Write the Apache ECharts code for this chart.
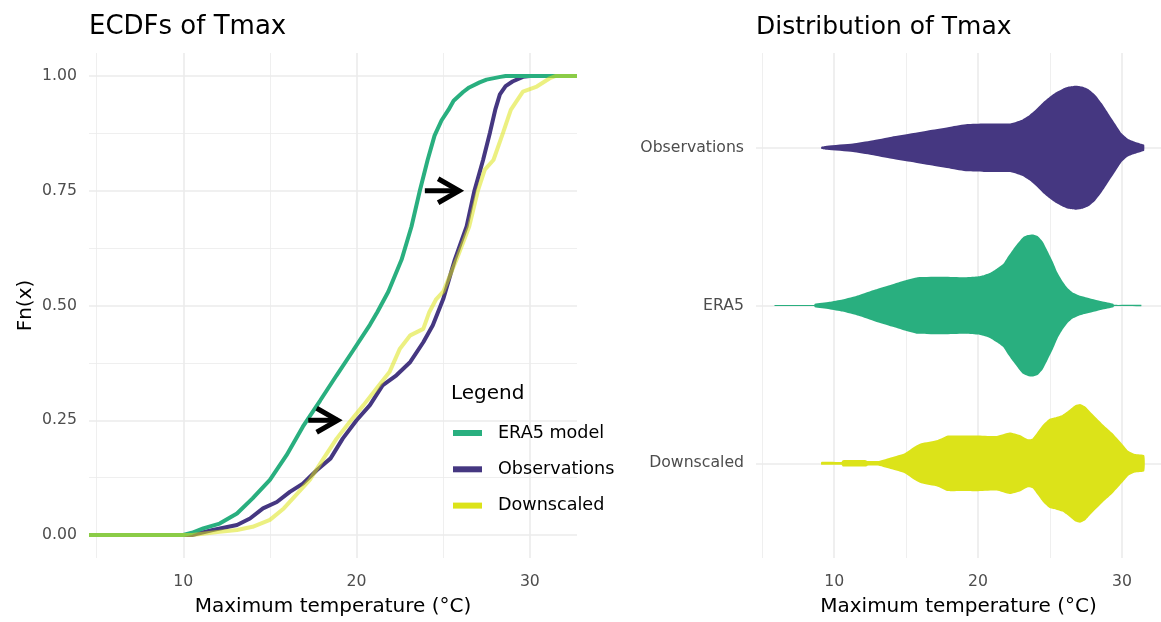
<!DOCTYPE html>
<html>
<head>
<meta charset="utf-8">
<title>ECDFs and distribution of Tmax</title>
<script src="https://cdn.jsdelivr.net/npm/echarts@6/dist/echarts.min.js"></script>
<style>
    html, body { margin: 0; padding: 0; background: #ffffff; }
    #main { width: 1161px; height: 622px; }
</style>
</head>
<body>
<div id="main"></div>
<script>
'use strict';

// ECDF curves (x = Tmax in degC, F = cumulative share)
var era5X = [4.56, 10.0, 10.5, 11.15, 12.1, 13.1, 14.0, 15.0, 15.96, 16.9, 17.9, 18.85, 19.8, 20.77, 21.2, 21.83, 22.6, 23.17, 23.65, 24.1, 24.5, 24.9, 25.3, 25.6, 26.15, 26.5, 27.1, 27.5, 28.3, 28.6, 32.72];
var era5F = [0, 0, 0.005, 0.0145, 0.025, 0.047, 0.080, 0.120, 0.174, 0.236, 0.293, 0.348, 0.402, 0.458, 0.486, 0.530, 0.600, 0.672, 0.750, 0.817, 0.870, 0.903, 0.926, 0.946, 0.965, 0.975, 0.986, 0.992, 0.998, 1, 1];

var obsX = [4.56, 10.5, 11.7, 13.1, 13.85, 14.6, 15.4, 16.15, 16.9, 17.7, 18.5, 19.2, 20.0, 20.77, 21.5, 22.3, 23.1, 23.85, 24.4, 25.0, 25.67, 26.35, 26.8, 27.3, 27.7, 28.0, 28.27, 28.6, 29.0, 29.6, 30.0, 32.72];
var obsF = [0, 0, 0.011, 0.022, 0.036, 0.058, 0.072, 0.094, 0.112, 0.141, 0.167, 0.210, 0.250, 0.283, 0.326, 0.348, 0.377, 0.420, 0.457, 0.514, 0.600, 0.672, 0.750, 0.817, 0.877, 0.926, 0.960, 0.978, 0.988, 0.998, 1, 1];

var downX = [4.56, 10.5, 12.1, 13.1, 14.0, 15.0, 15.8, 16.5, 17.3, 18.1, 18.85, 19.6, 20.4, 21.15, 21.9, 22.5, 23.1, 23.85, 24.2, 24.6, 25.0, 25.77, 26.5, 27.0, 27.4, 27.9, 28.46, 28.9, 29.6, 30.4, 31.15, 31.5, 32.72];
var downF = [0, 0, 0.007, 0.011, 0.018, 0.033, 0.058, 0.087, 0.120, 0.167, 0.210, 0.246, 0.283, 0.319, 0.355, 0.406, 0.435, 0.449, 0.486, 0.514, 0.530, 0.600, 0.672, 0.750, 0.796, 0.817, 0.877, 0.926, 0.966, 0.977, 0.995, 1, 1];

// arrows ERA5 -> observations at F = 0.25 and 0.75
var arrowFrom = [17.21, 23.94];
var arrowTo = [19.14, 26.15];
var arrowF = [0.25, 0.75];

// violins: temperature grid and half width (in category units)
var violinCats = ['Downscaled', 'ERA5', 'Observations'];   // bottom to top

var obsVioX = [9.1, 9.5, 11.3, 12.6, 14.0, 15.4, 16.7, 18.1, 19.25, 20.4, 22.2, 22.67, 23.1, 23.58, 24.04, 24.5, 24.95, 25.4, 25.87, 26.3, 26.8, 27.24, 27.7, 28.15, 28.6, 29.06, 29.52, 29.98, 30.43, 30.9, 31.35, 31.55];
var obsVioW = [0.006, 0.013, 0.027, 0.046, 0.070, 0.091, 0.112, 0.133, 0.150, 0.154, 0.154, 0.165, 0.179, 0.207, 0.243, 0.285, 0.319, 0.349, 0.372, 0.387, 0.393, 0.387, 0.369, 0.334, 0.281, 0.217, 0.154, 0.091, 0.055, 0.038, 0.025, 0.019];

var era5VioX = [5.85, 8.6, 8.65, 9.66, 10.57, 11.7, 12.85, 14.0, 14.9, 15.8, 17.65, 19.0, 19.93, 20.39, 20.85, 21.3, 21.76, 22.1, 22.44, 22.79, 23.13, 23.47, 23.81, 24.16, 24.5, 24.84, 25.18, 25.53, 25.87, 26.21, 26.55, 27.0, 27.47, 28.6, 29.4, 29.45, 31.35];
var era5VioW = [0.003, 0.003, 0.011, 0.023, 0.038, 0.065, 0.101, 0.133, 0.158, 0.179, 0.182, 0.179, 0.184, 0.192, 0.207, 0.233, 0.264, 0.312, 0.355, 0.397, 0.433, 0.446, 0.450, 0.439, 0.404, 0.344, 0.281, 0.207, 0.154, 0.112, 0.084, 0.065, 0.053, 0.027, 0.011, 0.004, 0.004];

var downVioX = [9.1, 10.5, 10.6, 12.2, 12.3, 13.1, 14.0, 14.9, 15.6, 16.05, 17.2, 17.9, 18.8, 19.9, 21.3, 22.2, 22.9, 23.47, 23.8, 24.16, 24.5, 24.95, 25.4, 25.87, 26.3, 26.78, 27.1, 27.47, 27.9, 28.6, 29.3, 29.98, 30.43, 30.9, 31.55];
var downVioW = [0.009, 0.009, 0.020, 0.020, 0.015, 0.015, 0.038, 0.063, 0.106, 0.127, 0.148, 0.176, 0.176, 0.177, 0.173, 0.195, 0.179, 0.152, 0.158, 0.201, 0.243, 0.281, 0.292, 0.306, 0.334, 0.369, 0.376, 0.359, 0.317, 0.253, 0.195, 0.127, 0.080, 0.059, 0.051];

// axis breaks
var majorX = [10, 20, 30];
var minorX = [5, 15, 25];
var majorY = [0, 0.25, 0.5, 0.75, 1];
var minorY = [0.125, 0.375, 0.625, 0.875];

var green = '#29AF7F', purple = '#453781', yellow = '#DCE319';
var font = 'DejaVu Sans';
var gridColor = '#EBEBEB';

function zip(xs, ys) {
    var d = [];
    for (var i = 0; i < xs.length; i++) {
        d.push([xs[i], ys[i]]);
    }
    return d;
}

// value axis that only shows grid lines at given breaks
function gridAxis(gridIndex, min, max, breaks, width, label) {
    return {
        type: 'value',
        gridIndex: gridIndex,
        min: min,
        max: max,
        axisLine: { show: false },
        axisTick: { show: false, customValues: breaks },
        axisLabel: label ? label : { show: false },
        splitLine: { show: true, lineStyle: { color: gridColor, width: width } }
    };
}

function tickLabel(values, margin, formatter) {
    return {
        customValues: values,
        margin: margin,
        color: '#4D4D4D',
        fontSize: 15.7,
        fontFamily: font,
        formatter: formatter
    };
}

function violinRenderer(xs, ws, cat) {
    return function(params, api) {
        var pts = [];
        for (var i = 0; i < xs.length; i++) {
            pts.push(api.coord([xs[i], cat + ws[i]]));
        }
        for (var j = xs.length - 1; j >= 0; j--) {
            pts.push(api.coord([xs[j], cat - ws[j]]));
        }
        return {
            type: 'polygon',
            shape: { points: pts, smooth: 0.15 },
            style: { fill: api.visual('color') }
        };
    };
}

function arrowRenderer(params, api) {
    var a = api.coord([api.value(0), api.value(2)]);
    var b = api.coord([api.value(1), api.value(2)]);
    var dx = b[0] - a[0], dy = b[1] - a[1];
    var len = Math.sqrt(dx * dx + dy * dy);
    var ux = dx / len, uy = dy / len;
    // pull the tip back so the mitred corner ends where the arrow ends
    var tip = [b[0] - ux * 4, b[1] - uy * 4];
    var head = 21, half = 12;
    return {
        type: 'group',
        children: [{
            type: 'polyline',
            shape: { points: [a, tip] },
            style: { stroke: '#000', lineWidth: 5, fill: null }
        }, {
            type: 'polyline',
            shape: {
                points: [
                    [tip[0] - ux * head - uy * half, tip[1] - uy * head + ux * half],
                    tip,
                    [tip[0] - ux * head + uy * half, tip[1] - uy * head - ux * half]
                ]
            },
            style: { stroke: '#000', lineWidth: 5, fill: null, lineJoin: 'miter' }
        }]
    };
}

var xMin = 4.56, xMax = 32.72;

var nameStyle = { color: '#000', fontSize: 20, fontFamily: font };

var myChart = echarts.init(document.getElementById('main'));
var option = {
    animation: false,
    backgroundColor: '#ffffff',
    title: [{
        text: 'ECDFs of Tmax', left: 89, top: 14, padding: 0,
        textStyle: { color: '#000', fontSize: 26, fontWeight: 'normal', fontFamily: font }
    }, {
        text: 'Distribution of Tmax', left: 756, top: 15, padding: 0,
        textStyle: { color: '#000', fontSize: 25, fontWeight: 'normal', fontFamily: font }
    }, {
        text: 'Legend', left: 451, top: 384, padding: 0,
        textStyle: { color: '#000', fontSize: 20, fontWeight: 'normal', fontFamily: font }
    }],
    legend: {
        data: [
            { name: 'ERA5 model', itemStyle: { color: green, opacity: 1 } },
            { name: 'Observations', itemStyle: { color: purple, opacity: 1 } },
            { name: 'Downscaled', itemStyle: { color: yellow, opacity: 1 } }
        ],
        orient: 'vertical',
        left: 453,
        top: 423,
        padding: 0,
        icon: 'rect',
        itemWidth: 29,
        itemHeight: 6,
        itemGap: 16.3,
        selectedMode: false,
        textStyle: { color: '#000', fontSize: 17.6, fontFamily: font, lineHeight: 20, padding: [0, 0, 0, 11] }
    },
    grid: [
        { left: 89, top: 53, width: 488, height: 505 },
        { left: 756, top: 53, width: 410, height: 505 }
    ],
    xAxis: [
        Object.assign(gridAxis(0, xMin, xMax, majorX, 1.6, tickLabel(majorX, 16)), {
            name: 'Maximum temperature (°C)', nameLocation: 'middle', nameGap: 39, nameTextStyle: nameStyle
        }),
        gridAxis(0, xMin, xMax, minorX, 0.8),
        Object.assign(gridAxis(1, xMin, xMax, majorX, 1.6, tickLabel(majorX, 16)), {
            name: 'Maximum temperature (°C)', nameLocation: 'middle', nameGap: 39, nameTextStyle: nameStyle
        }),
        gridAxis(1, xMin, xMax, minorX, 0.8)
    ],
    yAxis: [
        Object.assign(gridAxis(0, -0.05, 1.05, majorY, 1.6, tickLabel(majorY, 12, function(v) {
            return v.toFixed(2);
        })), {
            name: 'Fn(x)', nameLocation: 'middle', nameGap: 53, nameTextStyle: nameStyle
        }),
        gridAxis(0, -0.05, 1.05, minorY, 0.8),
        gridAxis(1, 0.4, 3.6, [1, 2, 3], 1.6, tickLabel([1, 2, 3], 12, function(v) {
            return violinCats[Math.round(v) - 1];
        }))
    ],
    series: [{
        name: 'Observations',
        type: 'line',
        xAxisIndex: 0,
        yAxisIndex: 0,
        showSymbol: false,
        itemStyle: { color: purple },
        lineStyle: { color: purple, width: 4 },
        data: zip(obsX, obsF),
        z: 3
    }, {
        name: 'ERA5 model',
        type: 'line',
        xAxisIndex: 0,
        yAxisIndex: 0,
        showSymbol: false,
        itemStyle: { color: green },
        lineStyle: { color: green, width: 4 },
        data: zip(era5X, era5F),
        z: 4
    }, {
        name: 'Downscaled',
        type: 'line',
        xAxisIndex: 0,
        yAxisIndex: 0,
        showSymbol: false,
        itemStyle: { color: yellow },
        lineStyle: { color: 'rgba(220, 227, 25, 0.55)', width: 4 },
        data: zip(downX, downF),
        z: 5
    }, {
        name: 'arrows',
        type: 'custom',
        xAxisIndex: 0,
        yAxisIndex: 0,
        renderItem: arrowRenderer,
        data: arrowFrom.map(function(x, i) {
            return [x, arrowTo[i], arrowF[i]];
        }),
        z: 6
    }, {
        name: 'Observations violin',
        type: 'custom',
        xAxisIndex: 2,
        yAxisIndex: 2,
        itemStyle: { color: purple },
        renderItem: violinRenderer(obsVioX, obsVioW, 3),
        data: [[obsVioX[0], 3]]
    }, {
        name: 'ERA5 violin',
        type: 'custom',
        xAxisIndex: 2,
        yAxisIndex: 2,
        itemStyle: { color: green },
        renderItem: violinRenderer(era5VioX, era5VioW, 2),
        data: [[era5VioX[0], 2]]
    }, {
        name: 'Downscaled violin',
        type: 'custom',
        xAxisIndex: 2,
        yAxisIndex: 2,
        itemStyle: { color: yellow },
        renderItem: violinRenderer(downVioX, downVioW, 1),
        data: [[downVioX[0], 1]]
    }]
};
myChart.setOption(option);
</script>
</body>
</html>
